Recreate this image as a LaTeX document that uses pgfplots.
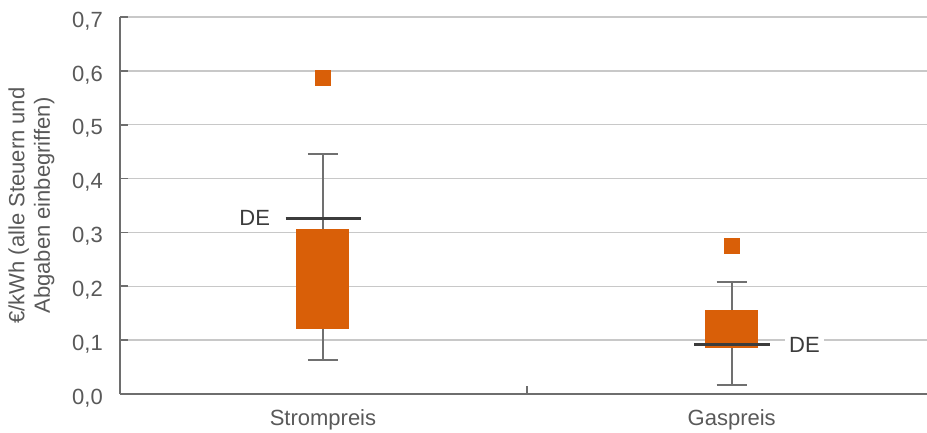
\documentclass[border=0pt]{standalone}
\usepackage{fontspec}
\setmainfont{Liberation Sans}
\usepackage{pgfplots}
\pgfplotsset{compat=1.18}
\usepgfplotslibrary{statistics}
\definecolor{boxor}{HTML}{D95F08}
\definecolor{axgray}{HTML}{6E6E6E}
\definecolor{gridgray}{HTML}{C8C8C8}
\definecolor{whisk}{HTML}{707070}
\definecolor{degray}{HTML}{3C3C3C}
\definecolor{txt}{HTML}{595959}
\newcommand{\bigf}{\fontsize{22}{25.5}\selectfont}
\begin{document}
\begin{tikzpicture}
\begin{axis}[
  at={(0pt,0pt)}, anchor=south west,
  scale only axis, width=807pt, height=377pt,
  xmin=0, xmax=2, ymin=0, ymax=0.7,
  axis x line*=bottom, axis y line*=left,
  axis line style={-, draw=axgray, line width=1.8pt},
  every outer x axis line/.append style={-},
  every outer y axis line/.append style={-},
  tick align=inside, major tick length=8pt,
  tick style={draw=axgray, line width=1.8pt},
  ymajorgrids, grid style={draw=gridgray, line width=1.3pt},
  ytick={0,0.1,0.2,0.3,0.4,0.5,0.6,0.7},
  xtick={1.009}, xticklabels={},
  extra x ticks={0.503,1.516},
  extra x tick labels={Strompreis,Gaspreis},
  extra x tick style={major tick length=0pt, tick style={draw=none}},
  /pgf/number format/assume math mode=true,
  y tick label style={font=\bigf, text=txt, inner sep=0pt, xshift=-17pt, yshift=-4pt,
    /pgf/number format/fixed, /pgf/number format/fixed zerofill,
    /pgf/number format/precision=1, /pgf/number format/use comma},
  x tick label style={font=\bigf, text=txt, inner sep=0pt, yshift=-15.5pt},
  ylabel={€/kWh (alle Steuern und\\Abgaben einbegriffen)},
  ylabel style={align=center, font=\bigf, text=txt, at={(axis description cs:-0.1097,0.5)}, anchor=center},
  clip=false,
  boxplot/draw direction=y,
]
% Strompreis box
\addplot[boxplot prepared={draw position=0.503, lower whisker=0.0637, lower quartile=0.121,
    median=0.121, upper quartile=0.306, upper whisker=0.4456, box extend=0.1313, whisker extend=0.0743},
  boxplot/every box/.style={fill=boxor, draw=none},
  boxplot/every median/.style={draw=none},
  boxplot/every whisker/.style={draw=whisk, line width=2.2pt}] coordinates {};
% Gaspreis box
\addplot[boxplot prepared={draw position=1.516, lower whisker=0.0173, lower quartile=0.086,
    median=0.086, upper quartile=0.156, upper whisker=0.208, box extend=0.1313, whisker extend=0.0743},
  boxplot/every box/.style={fill=boxor, draw=none},
  boxplot/every median/.style={draw=none},
  boxplot/every whisker/.style={draw=whisk, line width=2.2pt}] coordinates {};
% outliers
\addplot[only marks, mark=square*, mark size=7.6pt, color=boxor, mark options={draw=boxor, fill=boxor, line width=0.8pt}]
  coordinates {(0.503,0.587) (1.516,0.275)};
% DE values
\addplot[draw=degray, line width=3pt] coordinates {(0.4107,0.326) (0.5973,0.326)};
\addplot[draw=degray, line width=3pt] coordinates {(1.4226,0.0916) (1.6109,0.0916)};
\node[anchor=east, inner sep=0pt, font=\bigf, text=degray, xshift=-15.5pt] at (axis cs:0.4107,0.326) {DE};
\node[anchor=west, fill=white, inner xsep=4pt, inner ysep=2pt, font=\bigf, text=degray, xshift=15pt] at (axis cs:1.6109,0.0916) {DE};
\end{axis}
\pgfresetboundingbox
\path[use as bounding box] (-120pt,-38pt) rectangle (807pt,394pt);
\end{tikzpicture}
\end{document}
